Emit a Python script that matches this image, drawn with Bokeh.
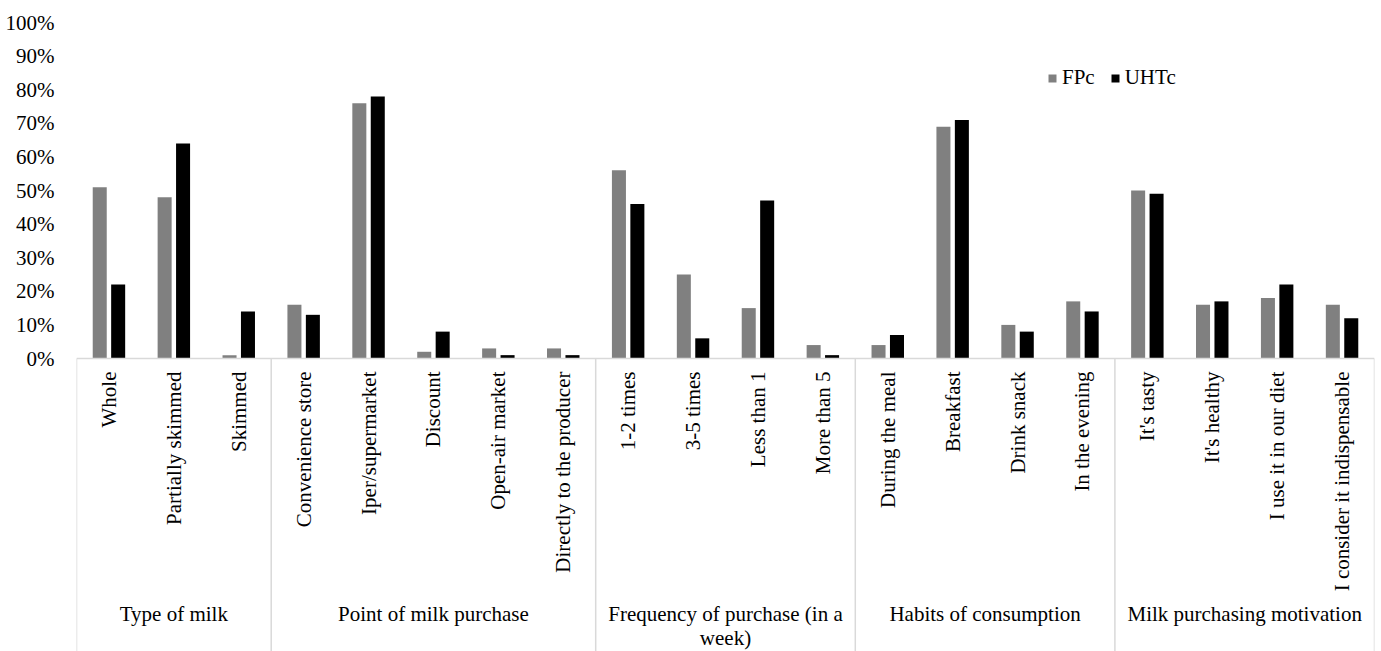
import numpy as np
from bokeh.plotting import figure
from bokeh.models import Range1d, FixedTicker, PrintfTickFormatter, Legend, LegendItem, ColumnDataSource
from bokeh.core.properties import value
from bokeh.embed import file_html
from bokeh.resources import INLINE

# ---- data ----
groups = ["Type of milk", "Point of milk purchase", "Frequency of purchase (in a\nweek)",
          "Habits of consumption", "Milk purchasing motivation"]
group_sizes = [3, 5, 4, 4, 4]
categories = ["Whole", "Partially skimmed", "Skimmed",
              "Convenience store", "Iper/supermarket", "Discount", "Open-air market", "Directly to the producer",
              "1-2 times", "3-5 times", "Less than 1", "More than 5",
              "During the meal", "Breakfast", "Drink snack", "In the evening",
              "It's tasty", "It's healthy", "I use it in our diet", "I consider it indispensable"]
fpc = [51, 48, 1, 16, 76, 2, 3, 3, 56, 25, 15, 4, 4, 69, 10, 17, 50, 16, 18, 16]
uhtc = [22, 64, 14, 13, 78, 8, 1, 1, 46, 6, 47, 1, 7, 71, 8, 14, 49, 17, 22, 12]
y_ticks = list(range(0, 101, 10))

FONT = "Liberation Serif"
FS = "21px"
W, H = 1381, 651
LEFT, RIGHT = 76, 1374
ZERO_PX, PX_PER = 358.0, 3.36

def py(p):  # pixel row -> data y (layout helper)
    return (ZERO_PX - p) / PX_PER

n = len(categories)
p = figure(width=W, height=H, output_backend="svg", toolbar_location=None,
           x_axis_location=None, x_range=Range1d(0, n), y_range=Range1d(py(H), py(0)),
           min_border_left=LEFT, min_border_right=W - RIGHT, min_border_top=0, min_border_bottom=0)
p.outline_line_color = None
p.xgrid.visible = False
p.ygrid.visible = False

ax = p.yaxis[0]
ax.ticker = FixedTicker(ticks=y_ticks)
ax.formatter = PrintfTickFormatter(format="%d%%")
ax.axis_line_color = None
ax.major_tick_line_color = None
ax.minor_tick_line_color = None
ax.major_label_text_font = FONT
ax.major_label_text_font_size = FS
ax.major_label_text_color = "#000000"
ax.major_label_standoff = 16

xc = np.arange(n) + 0.5
src = ColumnDataSource(dict(x1=xc - 0.142, x2=xc + 0.142, fpc=fpc, uhtc=uhtc))
r1 = p.vbar(x="x1", width=0.216, top="fpc", bottom=0, source=src, fill_color="#808080", line_color=None)
r2 = p.vbar(x="x2", width=0.216, top="uhtc", bottom=0, source=src, fill_color="#000000", line_color=None)

# axis baseline and group separators
bounds = np.concatenate([[0], np.cumsum(group_sizes)])
p.segment(x0=[0], y0=[0], x1=[n], y1=[0], line_color="#d9d9d9", line_width=1.5)
p.segment(x0=bounds, y0=[0] * len(bounds), x1=bounds, y1=[py(H)] * len(bounds),
          line_color="#d9d9d9", line_width=1.5)

# category labels (rotated)
p.text(x=xc, y=[py(371)] * n, text=categories, angle=np.pi / 2, text_align="right",
       text_baseline="middle", text_font=value(FONT), text_font_size=FS, text_color="#000000")

# group labels
gc = (bounds[:-1] + bounds[1:]) / 2
p.text(x=gc, y=[py(601)] * len(groups), text=groups, text_align="center", text_baseline="top",
       text_font=value(FONT), text_font_size=FS, text_color="#000000", text_line_height=1.0)

legend = Legend(items=[LegendItem(label="FPc", renderers=[r1]), LegendItem(label="UHTc", renderers=[r2])],
                orientation="horizontal", location=(1047 - LEFT, H - 90), padding=0, margin=0,
                spacing=15, label_standoff=5, glyph_width=10, glyph_height=10,
                label_text_font=FONT, label_text_font_size=FS, label_text_color="#000000",
                border_line_color=None, background_fill_alpha=0)
p.add_layout(legend, "center")

open("out.html", "w").write(file_html(p, INLINE))
